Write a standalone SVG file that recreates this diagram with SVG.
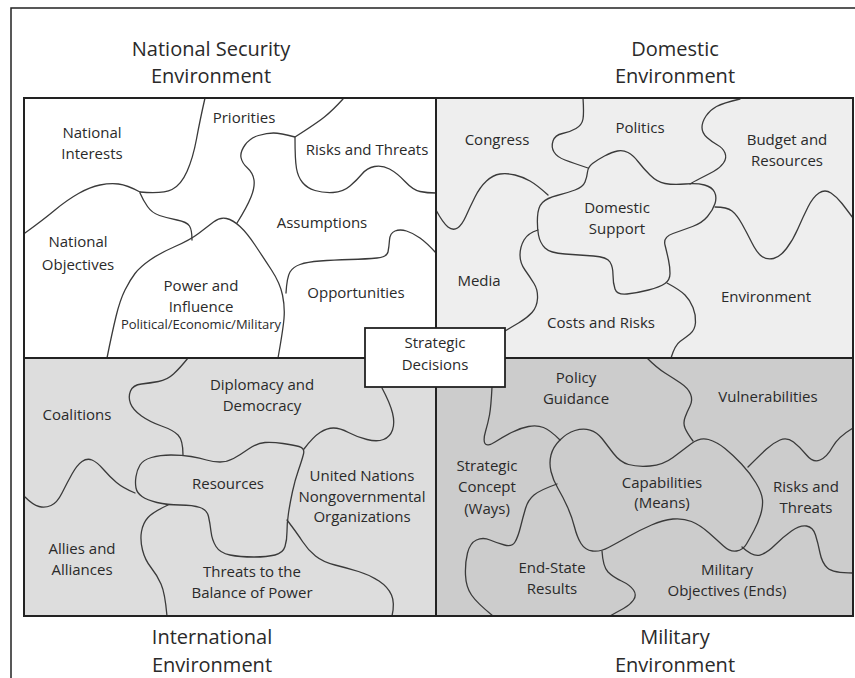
<svg xmlns="http://www.w3.org/2000/svg" width="855" height="678" viewBox="0 0 855 678">
<style>
.t{font-family:"Open Sans","DejaVu Sans",sans-serif;font-size:15px;fill:#2a2a2a;text-anchor:middle}
.h{font-family:"Open Sans","DejaVu Sans",sans-serif;font-size:20px;fill:#2a2a2a;text-anchor:middle}
.s{font-size:13px}
.c{fill:none;stroke:#3a3a3a;stroke-width:1.3;stroke-linecap:round;stroke-linejoin:round}
.g{fill:none;stroke:#222;stroke-width:2}
</style>
<rect x="0" y="0" width="855" height="678" fill="#fff"/>
<rect x="11" y="8" width="900" height="700" fill="none" stroke="#222" stroke-width="1.5"/>
<g id="quadrants">
<rect x="24" y="98" width="412" height="260" fill="#ffffff"/>
<rect x="436" y="98" width="417" height="260" fill="#eeeeee"/>
<rect x="24" y="358" width="412" height="258" fill="#dddddd"/>
<rect x="436" y="358" width="417" height="258" fill="#cccccc"/>
</g>
<g id="connectors" class="c">
<path d="M205,98 Q200,120 196.5,139 Q193,158 187,171.5 Q181,185 172,189.5 Q163,194 140,192"/>
<path d="M140,192 Q127,185 118.5,184 Q110,183 100,185 Q90,187 78.5,193.5 Q67,200 55,210 Q43,220 25,233"/>
<path d="M140,193 Q143,200 147.5,206.5 Q152,213 159.5,215.5 Q167,218 177,220 Q187,222 189.5,226 Q192,230 192,240"/>
<path d="M107,358 Q112,333 116,316.5 Q120,300 125,290 Q130,280 135,273.5 Q140,267 150,260 Q160,253 175,246.5 Q190,240 198.5,233.5 Q207,227 213.5,222 Q220,217 226.5,218.5 Q233,220 240,226.5 Q247,233 255,245 Q263,257 271.5,270 Q280,283 282.5,295 Q285,307 284,318.5 Q283,330 278,358"/>
<path d="M237,223 Q247,207 251,197 Q255,187 254,180 Q253,173 247.5,168 Q242,163 241,157.5 Q240,152 245,145 Q250,138 258.5,135.5 Q267,133 273.5,133 Q280,133 295,137"/>
<path d="M295,137 Q317,123 325,116.5 Q333,110 343,99"/>
<path d="M295,138 Q295,160 296.5,168.5 Q298,177 302.5,182.5 Q307,188 315,190.5 Q323,193 333,192.5 Q343,192 350,186 Q357,180 362,174 Q367,168 374.5,166.5 Q382,165 389.5,169 Q397,173 405,181.5 Q413,190 420,191.5 Q427,193 436,193"/>
<path d="M286,293 Q287,277 290,272 Q293,267 300,264.5 Q307,262 320,261 Q333,260 350,259.5 Q367,259 377,258 Q387,257 388,252 Q389,247 389.5,240 Q390,233 395,231 Q400,229 406.5,231 Q413,233 420,238 Q427,243 436,253"/>
<path d="M583,98 Q584,113 583,119 Q582,125 576,128.5 Q570,132 562.5,133.5 Q555,135 553,141 Q551,147 554,152 Q557,157 565,160 Q573,163 588,168"/>
<path d="M587.5,172 Q588,167 592.5,163.5 Q597,160 604.5,156 Q612,152 617.5,151 Q623,150 628,152.5 Q633,155 638,161.5 Q643,168 650,175 Q657,182 665,183.5 Q673,185 685,184 Q697,183 704.5,185 Q712,187 714.5,192 Q717,197 715,203.5 Q713,210 707.5,216.5 Q702,223 692.5,226.5 Q683,230 673,233.5 Q663,237 665,245 Q667,253 668.5,260 Q670,267 670,273.5 Q670,280 665,283.5 Q660,287 648.5,290 Q637,293 627,294 Q617,295 615,289 Q613,283 613,275 Q613,267 610,262 Q607,257 593.5,256 Q580,255 565,254 Q550,253 545,248 Q540,243 538.5,235 Q537,227 537.5,217 Q538,207 542.5,202.5 Q547,198 557,195.5 Q567,193 575,190 Q583,187 585,182 Q587,177 587.5,172 Z"/>
<path d="M436,210 Q443,223 448,227 Q453,231 457.5,228 Q462,225 466,216 Q470,207 475,197 Q480,187 486.5,181 Q493,175 500,174 Q507,173 515,175 Q523,177 530,181 Q537,185 548,195"/>
<path d="M538,230 Q528,233 524,240 Q520,247 520,255 Q520,263 525,270 Q530,277 534,283.5 Q538,290 537.5,298.5 Q537,307 532,312.5 Q527,318 518.5,323 Q510,328 505,331"/>
<path d="M740,99 Q723,103 716.5,106.5 Q710,110 706,116 Q702,122 702,127.5 Q702,133 707,137.5 Q712,142 717.5,145 Q723,148 725,153 Q727,158 723.5,163 Q720,168 713.5,171.5 Q707,175 700,178.5 Q693,182 690,184"/>
<path d="M715,207 Q727,207 732,211 Q737,215 742,224 Q747,233 752,243 Q757,253 762,256.5 Q767,260 773.5,258.5 Q780,257 786.5,248.5 Q793,240 798,228.5 Q803,217 808,207 Q813,197 819,193 Q825,189 831,193 Q837,197 842,203.5 Q847,210 853,218"/>
<path d="M667,283 Q680,290 685,295 Q690,300 693,307.5 Q696,315 695.5,322.5 Q695,330 690,334 Q685,338 680,341.5 Q675,345 671,358"/>
<path d="M188,358 Q180,368 173.5,374 Q167,380 158.5,381.5 Q150,383 141.5,384 Q133,385 130.5,391 Q128,397 130.5,403.5 Q133,410 141.5,416 Q150,422 161.5,426 Q173,430 178,435 Q183,440 183,455"/>
<path d="M191,456.5 Q182,455 171,455 Q160,455 151.5,457.5 Q143,460 140,465 Q137,470 136,476.5 Q135,483 136,488 Q137,493 142,496.5 Q147,500 157,502.5 Q167,505 180,505 Q193,505 200,507.5 Q207,510 208.5,516.5 Q210,523 211,531.5 Q212,540 216,546.5 Q220,553 230,555 Q240,557 253.5,557 Q267,557 275,555 Q283,553 285,546.5 Q287,540 287,531.5 Q287,523 288.5,513 Q290,503 292.5,491.5 Q295,480 298.5,470 Q302,460 303.5,454 Q305,448 299,446.5 Q293,445 283,443.5 Q273,442 265,442.5 Q257,443 248.5,449 Q240,455 233.5,458.5 Q227,462 220,462 Q213,462 206.5,460 Q200,458 191,456.5 Z"/>
<path d="M304,449 Q313,437 320,432.5 Q327,428 333.5,428 Q340,428 348.5,432.5 Q357,437 367,439.5 Q377,442 383.5,439.5 Q390,437 392.5,430 Q395,423 392.5,413 Q390,403 382,388"/>
<path d="M25,497 Q33,505 39,506.5 Q45,508 51,505.5 Q57,503 62,493 Q67,483 72,474 Q77,465 82,461.5 Q87,458 92,460 Q97,462 103.5,469.5 Q110,477 116.5,482.5 Q123,488 135,493"/>
<path d="M168,505 Q153,512 148,517.5 Q143,523 141.5,531.5 Q140,540 142.5,550 Q145,560 151,567.5 Q157,575 161,584 Q165,593 167,616"/>
<path d="M287,520 Q297,533 302.5,541.5 Q308,550 315.5,556 Q323,562 335,565 Q347,568 358.5,571.5 Q370,575 379,581 Q388,587 391.5,595 Q395,603 392,616"/>
<path d="M492,387 Q491,407 489.5,415 Q488,423 485.5,431.5 Q483,440 485,443.5 Q487,447 495,442 Q503,437 511.5,432.5 Q520,428 528.5,426.5 Q537,425 543.5,427.5 Q550,430 560,440"/>
<path d="M560,440 Q567,433 575,430.5 Q583,428 590,430 Q597,432 602,438.5 Q607,445 613.5,453.5 Q620,462 628.5,464.5 Q637,467 650,466 Q663,465 673,457.5 Q683,450 691.5,443.5 Q700,437 708.5,439.5 Q717,442 725,448.5 Q733,455 741.5,464 Q750,473 756,483 Q762,493 762.5,500 Q763,507 760.5,515 Q758,523 754,530.5 Q750,538 746.5,544 Q743,550 736.5,551 Q730,552 723.5,546 Q717,540 708.5,532.5 Q700,525 691.5,521.5 Q683,518 673,519 Q663,520 651.5,525 Q640,530 628.5,536.5 Q617,543 608.5,547.5 Q600,552 592.5,551 Q585,550 581,543.5 Q577,537 574.5,527 Q572,517 567.5,507 Q563,497 558,488.5 Q553,480 551,471.5 Q549,463 551,455 Q553,447 560,440 Z"/>
<path d="M647,358 Q657,368 665,373 Q673,378 680.5,383 Q688,388 690.5,394 Q693,400 690,406 Q687,412 685,417.5 Q683,423 685,428 Q687,433 693,441"/>
<path d="M748,467 Q760,455 766.5,449 Q773,443 780,440 Q787,437 793.5,442 Q800,447 806.5,455 Q813,463 820,460 Q827,457 832.5,447 Q838,437 853,428"/>
<path d="M742,547 Q753,557 760,555 Q767,553 775,545 Q783,537 791.5,531 Q800,525 806.5,526 Q813,527 815.5,535 Q818,543 820,553 Q822,563 827.5,568 Q833,573 853,573"/>
<path d="M557,484 Q540,490 534,495 Q528,500 525.5,508.5 Q523,517 520.5,527 Q518,537 515,542 Q512,547 504.5,545 Q497,543 490,540 Q483,537 476.5,540 Q470,543 467.5,553 Q465,563 465.5,575 Q466,587 471.5,595 Q477,603 493,616"/>
<path d="M602,551 Q603,567 608,572 Q613,577 621.5,581 Q630,585 633.5,590 Q637,595 633.5,600 Q630,605 623.5,608.5 Q617,612 610,616"/>
</g>
<g id="grid" class="g">
<rect x="24" y="98" width="829" height="518"/>
<line x1="436" y1="98" x2="436" y2="616"/>
<line x1="24" y1="358" x2="853" y2="358"/>
</g>
<g id="strategic-decisions">
<rect x="365" y="328" width="140" height="59" fill="#fff" stroke="#222" stroke-width="1.8"/>
<text class="t" x="435" y="348">Strategic</text>
<text class="t" x="435" y="370">Decisions</text>
</g>
<g id="titles">
<text class="h" x="211" y="56">National Security</text>
<text class="h" x="211" y="83">Environment</text>
<text class="h" x="675" y="56">Domestic</text>
<text class="h" x="675" y="83">Environment</text>
<text class="h" x="212" y="644">International</text>
<text class="h" x="212" y="672">Environment</text>
<text class="h" x="675" y="644">Military</text>
<text class="h" x="675" y="672">Environment</text>
</g>
<g id="national-interests"><text class="t" x="92" y="138">National</text><text class="t" x="92" y="159">Interests</text></g>
<g id="priorities"><text class="t" x="244" y="123">Priorities</text></g>
<g id="ns-risks-threats"><text class="t" x="367" y="155">Risks and Threats</text></g>
<g id="assumptions"><text class="t" x="322" y="228">Assumptions</text></g>
<g id="national-objectives"><text class="t" x="78" y="247">National</text><text class="t" x="78" y="270">Objectives</text></g>
<g id="power-influence"><text class="t" x="201" y="291">Power and</text><text class="t" x="201" y="312">Influence</text><text class="t s" x="201" y="329">Political/Economic/Military</text></g>
<g id="opportunities"><text class="t" x="356" y="298">Opportunities</text></g>
<g id="congress"><text class="t" x="497" y="145">Congress</text></g>
<g id="politics"><text class="t" x="640" y="133">Politics</text></g>
<g id="budget"><text class="t" x="787" y="145">Budget and</text><text class="t" x="787" y="166">Resources</text></g>
<g id="domestic-support"><text class="t" x="617" y="213">Domestic</text><text class="t" x="617" y="234">Support</text></g>
<g id="media"><text class="t" x="479" y="286">Media</text></g>
<g id="costs-risks"><text class="t" x="601" y="328">Costs and Risks</text></g>
<g id="environment"><text class="t" x="766" y="302">Environment</text></g>
<g id="diplomacy"><text class="t" x="262" y="390">Diplomacy and</text><text class="t" x="262" y="411">Democracy</text></g>
<g id="coalitions"><text class="t" x="77" y="420">Coalitions</text></g>
<g id="resources"><text class="t" x="228" y="489">Resources</text></g>
<g id="un-ngo"><text class="t" x="362" y="481">United Nations</text><text class="t" x="362" y="502">Nongovernmental</text><text class="t" x="362" y="522">Organizations</text></g>
<g id="allies"><text class="t" x="82" y="554">Allies and</text><text class="t" x="82" y="575">Alliances</text></g>
<g id="threats-balance"><text class="t" x="252" y="577">Threats to the</text><text class="t" x="252" y="598">Balance of Power</text></g>
<g id="policy-guidance"><text class="t" x="576" y="383">Policy</text><text class="t" x="576" y="404">Guidance</text></g>
<g id="vulnerabilities"><text class="t" x="768" y="402">Vulnerabilities</text></g>
<g id="strategic-concept"><text class="t" x="487" y="471">Strategic</text><text class="t" x="487" y="492">Concept</text><text class="t" x="487" y="514">(Ways)</text></g>
<g id="capabilities"><text class="t" x="662" y="488">Capabilities</text><text class="t" x="662" y="508">(Means)</text></g>
<g id="mil-risks-threats"><text class="t" x="806" y="492">Risks and</text><text class="t" x="806" y="513">Threats</text></g>
<g id="end-state"><text class="t" x="552" y="573">End-State</text><text class="t" x="552" y="594">Results</text></g>
<g id="military-objectives"><text class="t" x="727" y="575">Military</text><text class="t" x="727" y="596">Objectives (Ends)</text></g>
</svg>
